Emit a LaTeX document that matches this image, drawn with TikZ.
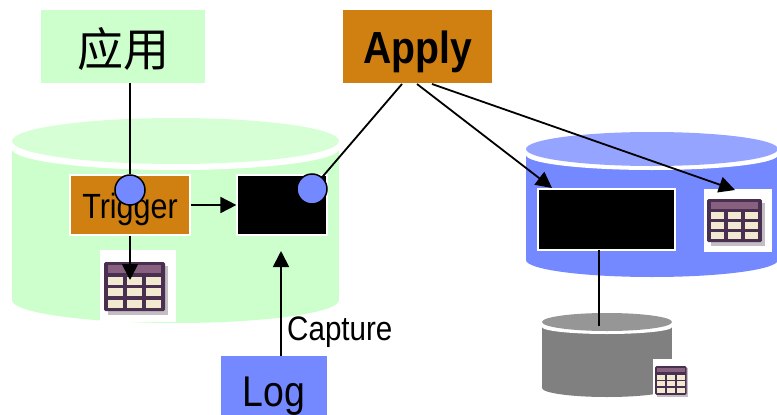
\documentclass[tikz,border=0pt]{standalone}
\usepackage{fontspec}
\setmainfont[FakeStretch=0.87]{Liberation Sans}
\newfontfamily\cjk{Noto Sans CJK SC}
\usetikzlibrary{arrows.meta}

\definecolor{lightgreen}{HTML}{CCFFCC}
\definecolor{topgreen}{HTML}{D6FFD6}
\definecolor{midblue}{HTML}{7488FF}
\definecolor{topblue}{HTML}{94A4FF}
\definecolor{midgray}{HTML}{808080}
\definecolor{topgray}{HTML}{969696}
\definecolor{boxorange}{HTML}{D08010}
\definecolor{iconframe}{HTML}{4A3050}
\definecolor{iconhead}{HTML}{886080}
\definecolor{iconcell}{HTML}{F2EAD0}
\definecolor{iconshadow}{HTML}{C4BEC4}

% cx, rx, top y, ry, body y, bottom y, body colour, top colour
\newcommand{\dbcylinder}[8]{
  \fill[#7] (#1,#6) ellipse [x radius=#2, y radius=#4];
  \fill[#7] (#1-#2,#5) rectangle (#1+#2,#6);
  \fill[white] (#1,#5) ellipse [x radius=#2, y radius=#4-2];
  \fill[#8] (#1,#3) ellipse [x radius=#2, y radius=#4];
}

% left, top, xscale, yscale of the 61 by 49 icon
\newcommand{\tableicon}[4]{
  \begin{scope}[shift={(#1,#2)},xscale=#3,yscale=#4]
    \fill[iconshadow] (4,4) rectangle (64,53);
    \fill[iconframe,rounded corners=1.5pt] (0,0) rectangle (61,49);
    \fill[iconhead] (4,3) rectangle (57,11);
    \foreach \cx in {4,23,42} {
      \foreach \cy in {15,26,38} {
        \fill[iconcell] (\cx,\cy) rectangle (\cx+15,\cy+8);
      }
    }
  \end{scope}
}

\begin{document}
\begin{tikzpicture}[x=1pt,y=-1pt,
    flatbox/.style={rectangle,inner sep=0pt,text depth=0pt},
    edgedbox/.style={flatbox,draw=white,line width=1.2pt},
    joint/.style={circle,draw=black,fill=midblue,line width=1.5pt,inner sep=0pt,minimum size=30pt},
    link/.style={draw,line width=1.8pt},
    arrowlink/.style={link,-{Triangle[length=16pt,width=16pt]}}]

  \useasboundingbox (0,0) rectangle (777,415);

  \dbcylinder{175.5}{163.5}{141}{23}{149}{300}{lightgreen}{topgreen}
  \dbcylinder{652}{126}{149}{17}{155}{260}{midblue}{topblue}
  \dbcylinder{607}{65}{322}{9}{327}{388}{midgray}{topgray}

  \begin{scope}[every node/.style={flatbox}]
    \node[fill=lightgreen,minimum width=164pt,minimum height=73pt,text height=40pt] (app) at (123,46.5) {\cjk\fontsize{46}{46}\selectfont 应用};
    \node[fill=boxorange,minimum width=149pt,minimum height=73pt,text height=34pt] (apply) at (417.5,46.5) {\fontsize{45}{45}\selectfont\bfseries Apply};
    \node[fill=midblue,minimum width=106pt,minimum height=59pt,text height=41pt] (log) at (274,385.5) {\fontsize{43}{43}\selectfont Log};
    \node[fill=white,minimum width=76pt,minimum height=72pt] (table1) at (138,286) {};
    \node[fill=white,minimum width=68pt,minimum height=63pt] (table2) at (738,220.5) {};
    \node[fill=white,minimum width=35pt,minimum height=39pt] (table3) at (670.5,378.5) {};
  \end{scope}

  \begin{scope}[every node/.style={edgedbox}]
    \node[fill=boxorange,minimum width=120pt,minimum height=60pt,text height=26pt] (trigger) at (130,205) {\fontsize{35}{35}\selectfont Trigger};
    \node[fill=black,minimum width=90pt,minimum height=60pt] (capture) at (282,205) {};
    \node[fill=black,minimum width=137pt,minimum height=61pt] (target) at (606.5,219.5) {};
  \end{scope}

  \node[inner sep=0pt,anchor=west] (capturetext) at (287,332) {\fontsize{34}{34}\selectfont Capture};

  \tableicon{104}{262}{1}{1}
  \tableicon{707}{199}{0.9}{0.88}
  \tableicon{655}{366}{0.52}{0.59}

  \coordinate (applyleft) at (402,84);
  \coordinate (applymid) at (417,84);
  \coordinate (applyright) at (432,84);
  \coordinate (tableend) at (130,280);
  \coordinate (targetend) at (552,188);
  \coordinate (table2end) at (735,190);
  \coordinate (logstart) at (281,356);
  \coordinate (captureend) at (281,251);
  \coordinate (targetbottom) at (599,250);
  \coordinate (archive) at (599,326);

  \node[joint] (hook1) at (130,190) {};
  \node[joint] (hook2) at (312,189) {};

  \draw[link] (app.south -| hook1) -- (hook1);
  \draw[link] (applyleft) -- (hook2);
  \draw[link] (targetbottom) -- (archive);

  \draw[arrowlink] (trigger) -- (capture);
  \draw[arrowlink] (trigger.south) -- (tableend);
  \draw[arrowlink] (logstart) -- (captureend);
  \draw[arrowlink] (applymid) -- (targetend);
  \draw[arrowlink] (applyright) -- (table2end);

\end{tikzpicture}
\end{document}
